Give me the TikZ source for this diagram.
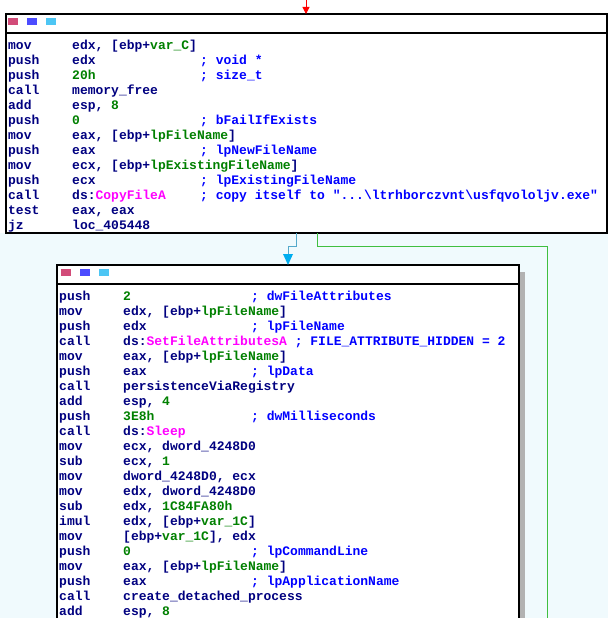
\documentclass[tikz,border=0pt]{standalone}
\usepackage{fontspec}
\usetikzlibrary{arrows.meta}
\newfontfamily\code{Liberation Mono}[BoldFont={Liberation Mono Bold}]
\definecolor{mn}{HTML}{000080}
\definecolor{nm}{HTML}{008000}
\definecolor{cm}{HTML}{0000FF}
\definecolor{fn}{HTML}{FF00FF}
\definecolor{bgb}{HTML}{F0FAFD}
\newcommand\G[1]{\textcolor{nm}{#1}}
\newcommand\F[1]{\textcolor{fn}{#1}}
\newcommand\asm[5]{%
  \node[txt] at (#1,#2) {#3};
  \node[txt] at (#1+64,#2) {#4};
  \node[txt,text=cm] at (#1+192,#2) {#5};}
\tikzset{txt/.style={anchor=base west,inner sep=0pt,font=\code\bfseries\fontsize{13}{15}\selectfont,text=mn},
  blk/.style={draw=black,line width=1.2pt,fill=white}}
\begin{document}
\begin{tikzpicture}[x=1pt,y=-1pt]
\useasboundingbox (0,0) rectangle (608,618);
\fill[white] (0,0) rectangle (608,618);
\fill[bgb] (0,233) rectangle (608,618);
% top block
\draw[blk] (6,14) rectangle (607,233);
\draw[line width=2pt] (6,33) -- (607,33);
\coordinate (ta) at (296,233); \coordinate (tb) at (317,233);
\coordinate (redtop) at (306,0); \coordinate (redbot) at (306,14);
\draw[red,line width=1pt,-{Triangle[length=7pt,width=7pt]}] (redtop) -- (redbot);
\foreach \i/\c in {0/purple,1/blue,2/cyan}{\fill[\c!70] (8+\i*19,18) rectangle (18+\i*19,25);}
\asm{8}{49}{mov}{edx, [ebp+\G{var\_C}]}{}
\asm{8}{64}{push}{edx}{; void *}
\asm{8}{79}{push}{\G{20h}}{; size\_t}
\asm{8}{94}{call}{memory\_free}{}
\asm{8}{109}{add}{esp, \G{8}}{}
\asm{8}{124}{push}{\G{0}}{; bFailIfExists}
\asm{8}{139}{mov}{eax, [ebp+\G{lpFileName}]}{}
\asm{8}{154}{push}{eax}{; lpNewFileName}
\asm{8}{169}{mov}{ecx, [ebp+\G{lpExistingFileName}]}{}
\asm{8}{184}{push}{ecx}{; lpExistingFileName}
\asm{8}{199}{call}{ds:\F{CopyFileA}}{; copy itself to "...\textbackslash ltrhborczvnt\textbackslash usfqvololjv.exe"}
\asm{8}{214}{test}{eax, eax}{}
\asm{8}{229}{jz}{loc\_405448}{}
% bottom block
\fill[gray!60] (519,272) rectangle (525,618);
\draw[blk] (57,265) rectangle (519,630);
\draw[line width=2pt] (57,284) -- (519,284);
\coordinate (bin) at (288,265);
\foreach \i/\c in {0/purple,1/blue,2/cyan}{\fill[\c!70] (61+\i*19,269) rectangle (71+\i*19,276);}
\asm{59}{300}{push}{\G{2}}{; dwFileAttributes}
\asm{59}{315}{mov}{edx, [ebp+\G{lpFileName}]}{}
\asm{59}{330}{push}{edx}{; lpFileName}
\asm{59}{345}{call}{ds:\F{SetFileAttributesA} \textcolor{cm}{; FILE\_ATTRIBUTE\_HIDDEN = 2}}{}
\asm{59}{360}{mov}{eax, [ebp+\G{lpFileName}]}{}
\asm{59}{375}{push}{eax}{; lpData}
\asm{59}{390}{call}{persistenceViaRegistry}{}
\asm{59}{405}{add}{esp, \G{4}}{}
\asm{59}{420}{push}{\G{3E8h}}{; dwMilliseconds}
\asm{59}{435}{call}{ds:\F{Sleep}}{}
\asm{59}{450}{mov}{ecx, dword\_4248D0}{}
\asm{59}{465}{sub}{ecx, \G{1}}{}
\asm{59}{480}{mov}{dword\_4248D0, ecx}{}
\asm{59}{495}{mov}{edx, dword\_4248D0}{}
\asm{59}{510}{sub}{edx, \G{1C84FA80h}}{}
\asm{59}{525}{imul}{edx, [ebp+\G{var\_1C}]}{}
\asm{59}{540}{mov}{[ebp+\G{var\_1C}], edx}{}
\asm{59}{555}{push}{\G{0}}{; lpCommandLine}
\asm{59}{570}{mov}{eax, [ebp+\G{lpFileName}]}{}
\asm{59}{585}{push}{eax}{; lpApplicationName}
\asm{59}{600}{call}{create\_detached\_process}{}
\asm{59}{615}{add}{esp, \G{8}}{}
% edges
\coordinate (gend) at (547,618);
\draw[cyan!60!gray,line width=1pt] (ta) -- (296,246) -- (288,246) -- (288,256);
\fill[cyan] (283,254) -- (293,254) -- (288,265) -- cycle;
\draw[green!50!gray,line width=1pt] (tb) |- (547,246) -- (gend);
\end{tikzpicture}
\end{document}
